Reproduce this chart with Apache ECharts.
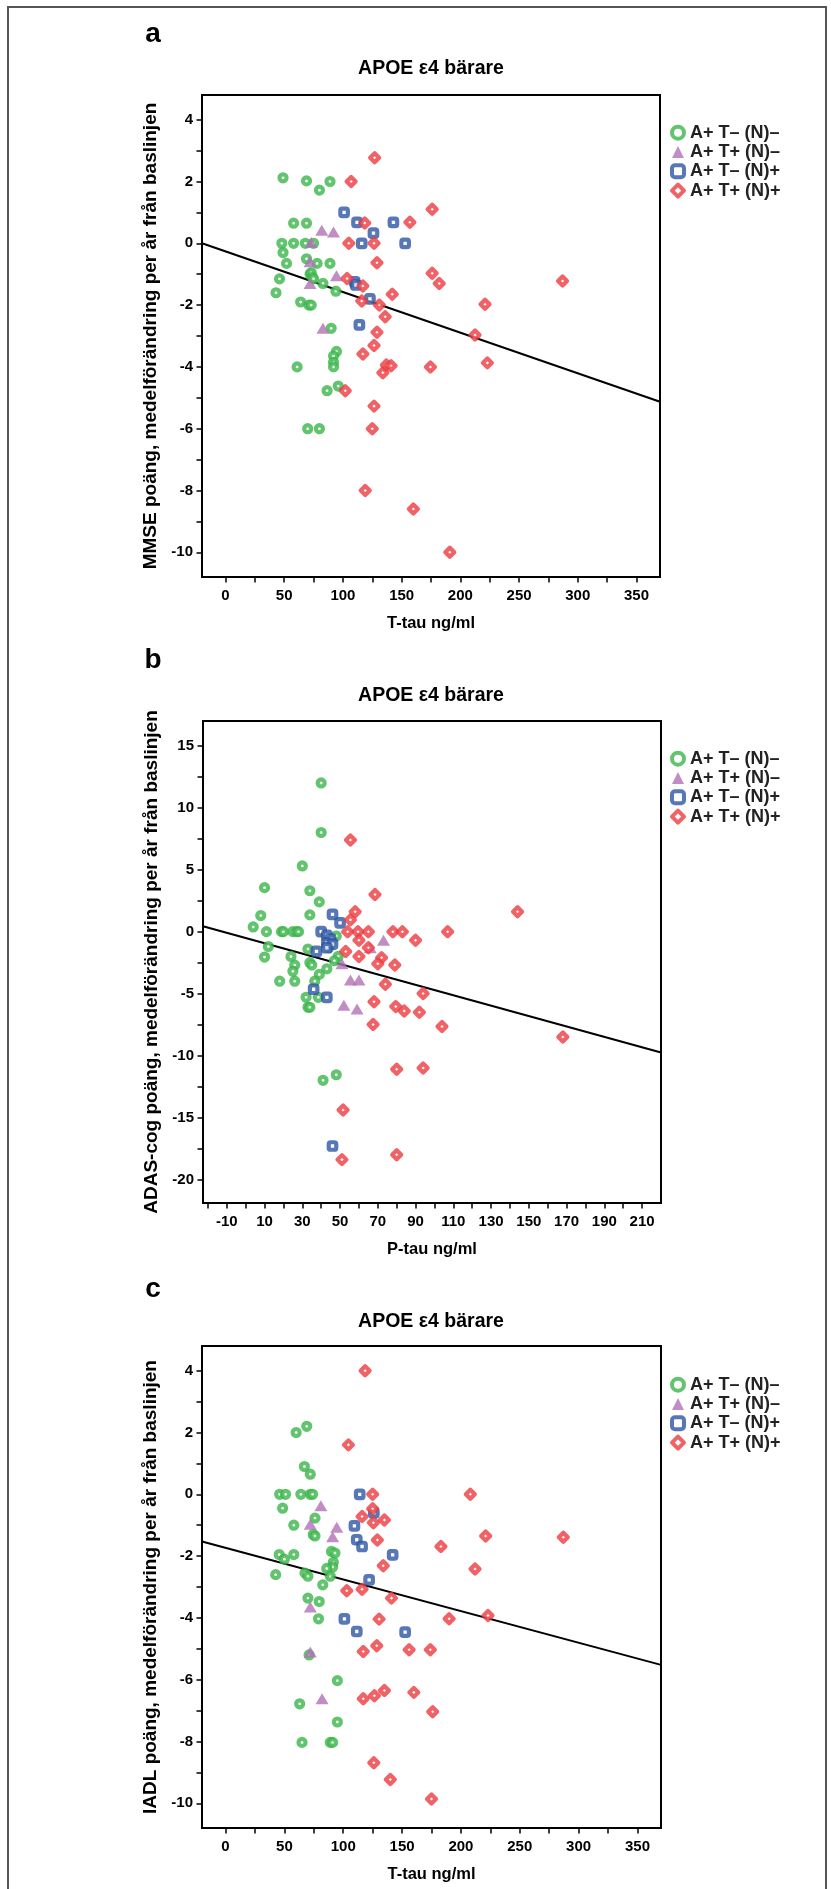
<!DOCTYPE html>
<html>
<head>
<meta charset="utf-8">
<script src="https://cdn.jsdelivr.net/npm/echarts@6/dist/echarts.min.js"></script>
<style>
html,body{margin:0;padding:0;background:#fff;}
#chart{width:831px;height:1889px;}
</style>
</head>
<body>
<div id="chart"></div>
<script>
// ---------- Data ----------
const groupNames = ['A+ T\u2013 (N)\u2013', 'A+ T+ (N)\u2013', 'A+ T\u2013 (N)+', 'A+ T+ (N)+'];
const panelLetters = ['a', 'b', 'c'];
const panelTitle = 'APOE \u03b54 b\u00e4rare';
const yTitles = ['MMSE po\u00e4ng, medelf\u00f6r\u00e4ndring per \u00e5r fr\u00e5n baslinjen',
                 'ADAS-cog po\u00e4ng, medelf\u00f6r\u00e4ndring per \u00e5r fr\u00e5n baslinjen',
                 'IADL po\u00e4ng, medelf\u00f6r\u00e4ndring per \u00e5r fr\u00e5n baslinjen'];
const xTitles = ['T-tau ng/ml', 'P-tau ng/ml', 'T-tau ng/ml'];

// tick values / labels
const tTauTicks = [0,25,50,75,100,125,150,175,200,225,250,275,300,325,350];
const tTauLabels = [0,50,100,150,200,250,300,350];
const pTauTicks = [-20,-10,0,10,20,30,40,50,60,70,80,90,100,110,120,130,140,150,160,170,180,190,200,210];
const pTauLabels = [-10,10,30,50,70,90,110,130,150,170,190,210];
const scoreTicks = [-10,-9,-8,-7,-6,-5,-4,-3,-2,-1,0,1,2,3,4];
const scoreLabels = [-10,-8,-6,-4,-2,0,2,4];
const adasTicks = [-20,-17.5,-15,-12.5,-10,-7.5,-5,-2.5,0,2.5,5,7.5,10,12.5,15];
const adasLabels = [-20,-15,-10,-5,0,5,10,15];

// axis ranges
const tTauRange = [-20, 370];
const pTauRange = [-22.6, 220];
const scoreRange = [-10.8, 4.8];
const adasRange = [-21.9, 17];

// Panel a: MMSE vs T-tau
const mmseGreen = [[49,2.12],[69,2.02],[80,1.72],[89,2.0],[58,0.65],[69,0.65],[48,0],[58,0],[68,0],[75,0],[49,-0.3],[52,-0.65],[69,-0.5],[78,-0.65],[89,-0.65],[46,-1.15],[43,-1.6],[72,-1.0],[73,-0.95],[74,-1.1],[75,-1.15],[83,-1.3],[94,-1.55],[64,-1.9],[71,-2.0],[73,-2.0],[90,-2.75],[94.5,-3.5],[92,-3.65],[92,-3.85],[92,-4.0],[61,-4.0],[86.5,-4.77],[96,-4.62],[70,-6],[80,-6]];
const mmsePurple = [[82,0.42],[92,0.37],[73,0.03],[72,-0.6],[94.5,-1.05],[72,-1.3],[83,-2.75]];
const mmseBlue = [[101,1.0],[112,0.68],[126,0.33],[116,0],[143,0.68],[153,0],[110,-1.25],[111,-1.35],[123,-1.8],[114,-2.64]];
const mmseRed = [[127,2.77],[107,2.0],[118.6,0.66],[105,0],[126.5,0],[129,-0.63],[103.5,-1.14],[117,-1.38],[116,-1.87],[131,-2.0],[142,-1.65],[136,-2.38],[129,-2.88],[126.5,-3.31],[117,-3.58],[157,0.68],[176,1.1],[176,-0.97],[182,-1.3],[134,-4.19],[137,-3.94],[141,-3.96],[174.5,-4.0],[102,-4.77],[126.5,-5.27],[125,-6],[119,-8],[160,-8.6],[287,-1.22],[221,-1.97],[212.5,-2.97],[223,-3.87],[191,-10]];
const mmseFit = [[-20,0],[370,-5.13]];

// Panel b: ADAS-cog vs P-tau
const adasGreen = [[40,12],[40,8],[30,5.3],[10,3.55],[34,3.3],[39,2.4],[34,1.35],[8,1.3],[4,0.38],[11,0],[19,0],[20,0],[25,0],[27,0],[28,0],[48,-0.35],[12,-1.2],[33,-1.4],[44,-1.3],[10,-2.05],[24,-2.0],[26,-2.7],[25,-3.2],[18,-4],[26,-4],[34,-2.5],[35,-2.7],[39,-3.45],[43,-3.0],[36.6,-4],[32,-5.3],[38.5,-5.3],[33,-6.1],[34,-6.1],[49,-2.0],[47,-2.35],[41,-12],[48,-11.55]];
const adasPurple = [[73,-0.7],[66,-1.3],[51,-2.6],[55.5,-3.9],[60,-3.9],[52,-5.95],[59,-6.25]];
const adasBlue = [[46,1.4],[50,0.7],[40,0],[43,-0.3],[45,-0.6],[43,-0.9],[46,-1.0],[37.5,-1.6],[43,-1.3],[36,-4.65],[43,-5.3],[46,-17.3]];
const adasRed = [[55.5,7.4],[68.5,3.0],[58,1.6],[55.5,0.95],[54,0],[59.5,0],[65,0],[78,0],[83,0],[107,0],[144,1.6],[60,-0.7],[90,-0.7],[65,-1.3],[53,-1.6],[60,-2.0],[72,-2.1],[70,-2.6],[79,-2.7],[74,-4.25],[94,-5.0],[68,-5.65],[79.5,-6.05],[84,-6.4],[92,-6.5],[67.5,-7.5],[104,-7.65],[168,-8.5],[80,-11.1],[94,-11],[51.6,-14.4],[51,-18.4],[80,-18]];
const adasFit = [[-22.6,0.44],[220,-9.75]];

// Panel c: IADL vs T-tau
const iadlGreen = [[60,2.0],[69,2.2],[67,0.9],[72,0.65],[46,0],[51,0],[64,0],[72,0],[74,0],[48.5,-0.45],[76,-0.77],[58,-1.0],[74.5,-1.3],[76,-1.35],[45.6,-1.95],[50,-2.1],[58,-1.95],[90,-1.85],[93,-1.9],[91.6,-2.2],[91,-2.35],[86,-2.4],[42.6,-2.6],[67.5,-2.55],[70,-2.65],[89,-2.65],[82.6,-2.93],[70,-3.36],[79.6,-3.47],[79,-4.03],[71,-5.2],[95,-6.03],[63,-6.78],[95,-7.37],[65,-8.03],[89,-8.03],[91,-8.03]];
const iadlPurple = [[81,-0.37],[72,-0.97],[94.5,-1.07],[91,-1.37],[72,-3.65],[72,-5.1],[82,-6.62]];
const iadlBlue = [[114,0],[126,-0.6],[109.5,-1.02],[111.5,-1.47],[116,-1.69],[142,-1.96],[122,-2.77],[101,-4.03],[111.5,-4.44],[152.6,-4.46]];
const iadlRed = [[118.6,4.0],[104.4,1.6],[125,0],[208,0],[125,-0.47],[116,-0.72],[125.6,-0.92],[135,-0.83],[129,-1.48],[221,-1.35],[287,-1.39],[183,-1.69],[134,-2.31],[212,-2.42],[103,-3.12],[116,-3.07],[141,-3.36],[130.5,-4.04],[190,-4.03],[223,-3.92],[128.5,-4.9],[117,-5.09],[156,-5.03],[174,-5.03],[135,-6.35],[126.5,-6.52],[117,-6.62],[160,-6.41],[176,-7.04],[126,-8.69],[140,-9.23],[175,-9.86]];
const iadlFit = [[-20,-1.53],[370,-5.52]];

// ---------- Styles & layout ----------
const FONT = '"Liberation Sans", Arial, Helvetica, sans-serif';
const COLORS = {green:'#3bb54a', purple:'#b072b6', blue:'#2d55a5', red:'#ec3b40'};
const markerStyles = [
  {symbol:'circle', symbolSize:7, itemStyle:{color:'#fff', borderColor:COLORS.green, borderWidth:4.2}},
  {symbol:'triangle', symbolSize:[13,11], itemStyle:{color:COLORS.purple, borderWidth:0}},
  {symbol:'roundRect', symbolSize:7.5, itemStyle:{color:'#fff', borderColor:COLORS.blue, borderWidth:4.2}},
  {symbol:'diamond', symbolSize:9, itemStyle:{color:'#fff', borderColor:COLORS.red, borderWidth:4.2, borderJoin:'round'}}
];
const legendIcons = [
  {icon:'circle', itemStyle:{color:'#fff', borderColor:COLORS.green, borderWidth:4}},
  {icon:'triangle', itemStyle:{color:COLORS.purple, borderWidth:0}},
  {icon:'roundRect', itemStyle:{color:'#fff', borderColor:COLORS.blue, borderWidth:4}},
  {icon:'diamond', itemStyle:{color:'#fff', borderColor:COLORS.red, borderWidth:4}}
];

const grids = [
  {left:202, top:95, width:458, height:482},
  {left:203, top:721, width:458, height:482},
  {left:202, top:1346, width:459, height:482}
];
const panels = [
  {data:[mmseGreen, mmsePurple, mmseBlue, mmseRed], fit:mmseFit, xr:tTauRange, xt:tTauTicks, xl:tTauLabels, yr:scoreRange, yt:scoreTicks, yl:scoreLabels},
  {data:[adasGreen, adasPurple, adasBlue, adasRed], fit:adasFit, xr:pTauRange, xt:pTauTicks, xl:pTauLabels, yr:adasRange, yt:adasTicks, yl:adasLabels},
  {data:[iadlGreen, iadlPurple, iadlBlue, iadlRed], fit:iadlFit, xr:tTauRange, xt:tTauTicks, xl:tTauLabels, yr:scoreRange, yt:scoreTicks, yl:scoreLabels}
];
const titleY = [69, 696, 1322];
const letterY = [34, 660, 1289];
const legendTop = [123, 749, 1375];

const axisText = {fontFamily:FONT, fontWeight:'bold', fontSize:15, color:'#000'};
const xNameText = {fontFamily:FONT, fontWeight:'bold', fontSize:16.5, color:'#000'};
const yNameText = {fontFamily:FONT, fontWeight:'bold', fontSize:19, color:'#000'};

const option = {
  animation:false,
  backgroundColor:'#fff',
  grid: grids.map(g => Object.assign({show:true, borderColor:'#000', borderWidth:2, backgroundColor:'transparent'}, g)),
  xAxis: panels.map((p,i) => ({
    gridIndex:i, type:'value', min:p.xr[0], max:p.xr[1],
    axisLine:{show:true, onZero:false, lineStyle:{color:'#000', width:2}},
    axisTick:{show:true, customValues:p.xt, length:5.5, lineStyle:{color:'#000', width:1.5}},
    axisLabel:{customValues:p.xl, margin:11, ...axisText},
    splitLine:{show:false},
    name:xTitles[i], nameLocation:'middle', nameGap:38, nameTextStyle:xNameText
  })),
  yAxis: panels.map((p,i) => ({
    gridIndex:i, type:'value', min:p.yr[0], max:p.yr[1],
    axisLine:{show:true, onZero:false, lineStyle:{color:'#000', width:2}},
    axisTick:{show:true, customValues:p.yt, length:5.5, lineStyle:{color:'#000', width:1.5}},
    axisLabel:{customValues:p.yl, margin:9, ...axisText},
    splitLine:{show:false},
    name:yTitles[i], nameLocation:'middle', nameRotate:90, nameGap:40, nameTextStyle:yNameText
  })),
  legend: legendTop.map(t => ({
    left:670, top:t, orient:'vertical', padding:0, itemGap:0, itemWidth:12, itemHeight:12,
    selectedMode:false,
    textStyle:{fontFamily:FONT, fontWeight:'bold', fontSize:18, color:'#222', lineHeight:19.3, padding:[0,0,0,1]},
    data: groupNames.map((n,k) => Object.assign({name:n}, legendIcons[k]))
  })),
  graphic: [
    {type:'rect', shape:{x:8, y:7, width:818, height:1900}, style:{fill:'none', stroke:'#555', lineWidth:2}, silent:true}
  ].concat(panels.map((p,i) => ({
    type:'text', x:431, y:titleY[i],
    style:{text:panelTitle, align:'center', verticalAlign:'middle', fontFamily:FONT, fontWeight:'bold', fontSize:19.5, fill:'#000'}
  }))).concat(panels.map((p,i) => ({
    type:'text', x:153, y:letterY[i],
    style:{text:panelLetters[i], align:'center', verticalAlign:'middle', fontFamily:FONT, fontWeight:'bold', fontSize:28, fill:'#000'}
  }))),
  series: []
};

panels.forEach((p,i) => {
  p.data.forEach((d,k) => {
    option.series.push(Object.assign({
      type:'scatter', name:groupNames[k], xAxisIndex:i, yAxisIndex:i, data:d
    }, JSON.parse(JSON.stringify(markerStyles[k]))));
  });
  option.series.push({
    type:'line', name:'fit'+i, xAxisIndex:i, yAxisIndex:i, data:p.fit,
    symbol:'none', silent:true, z:1,
    lineStyle:{color:'#000', width:2}
  });
});

const chart = echarts.init(document.getElementById('chart'), null, {renderer:'canvas'});
chart.setOption(option);
</script>
</body>
</html>
